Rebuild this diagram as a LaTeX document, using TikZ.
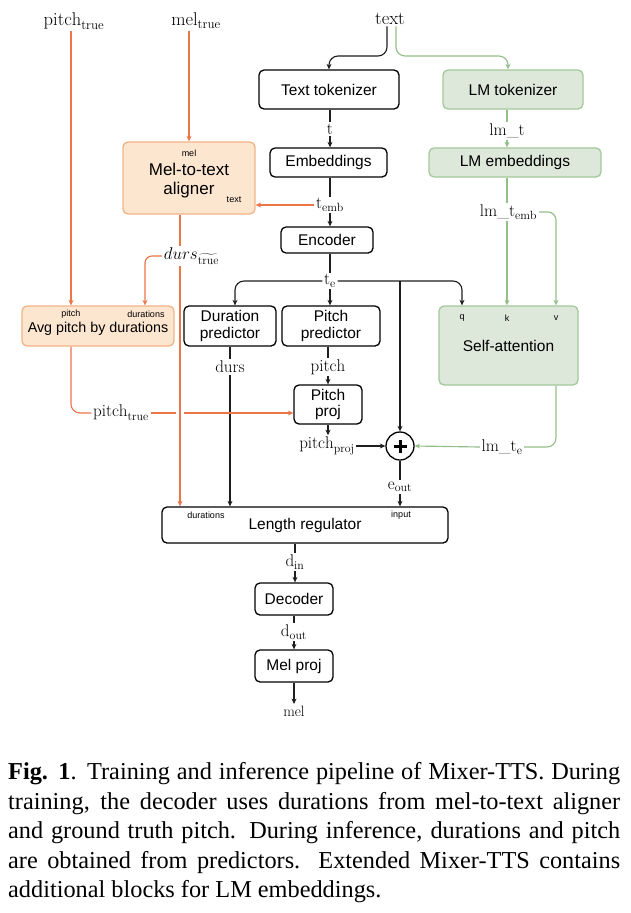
\RequirePackage{fix-cm}
\documentclass[tikz,border=0pt]{standalone}
\usepackage{fontspec}
\usepackage{amsmath}
\newfontfamily\sansf{Liberation Sans}
\newfontfamily\capserif{Liberation Serif}
\usetikzlibrary{arrows.meta,calc}
\pgfdeclarelayer{back}
\pgfdeclarelayer{bg}
\pgfsetlayers{back,bg,main}
\definecolor{orl}{HTML}{EC7649}
\definecolor{orfill}{HTML}{FDE6CF}
\definecolor{ordraw}{HTML}{F2B387}
\definecolor{grl}{HTML}{94BF8A}
\definecolor{grfill}{HTML}{DDE8DA}
\definecolor{grdraw}{HTML}{A3C99A}
\definecolor{lnc}{HTML}{1E1E1E}
\newcommand\bfnt{\sansf\fontsize{15.5}{17.5}\selectfont}
\newcommand\sfnt{\sansf\fontsize{9}{10}\selectfont}
\newcommand\mfnt{\fontsize{17}{19}\selectfont}
\newcommand\tfnt{\fontsize{18.5}{21}\selectfont}
\begin{document}
\begin{tikzpicture}[x=1pt,y=-1pt,
  bx/.style={draw=black, line width=1.3pt, rounded corners=5pt, align=center, font=\bfnt, inner sep=0pt},
  obx/.style={bx, fill=orfill, draw=ordraw},
  gbx/.style={bx, fill=grfill, draw=grdraw},
  lb/.style={fill=white, inner sep=1.5pt, font=\mfnt},
  sm/.style={inner sep=0pt, font=\sfnt},
  ln/.style={draw=lnc, line width=1.15pt},
  ar/.style={ln, -{Stealth[length=5.5pt,width=5pt]}},
  oln/.style={draw=orl, line width=1.15pt},
  oar/.style={oln, -{Stealth[length=5.5pt,width=5pt]}},
  gln/.style={draw=grl, line width=1.15pt},
  gar/.style={gln, -{Stealth[length=5.5pt,width=5pt]}},
]
\begin{pgfonlayer}{back}
\fill[white] (0,0) rectangle (630,913);
\end{pgfonlayer}
\useasboundingbox (0,0) rectangle (630,913);

% top labels
\node[lb, font=\tfnt] (ptop) at (74,21) {$\mathrm{pitch}_{\mathrm{true}}$};
\node[lb, font=\tfnt] (mtop) at (196,21) {$\mathrm{mel}_{\mathrm{true}}$};
\node[lb, font=\tfnt] (txt) at (390,19) {$\mathrm{text}$};

% boxes
\node[bx, minimum width=140pt, minimum height=39pt] (tok) at (329,89.5) {Text tokenizer};
\node[gbx, minimum width=140pt, minimum height=39pt] (lmtok) at (513,89.5) {LM tokenizer};
\node[bx, minimum width=117pt, minimum height=29pt] (emb) at (328.5,162.5) {Embeddings};
\node[gbx, minimum width=172pt, minimum height=29pt] (lmemb) at (515,162.5) {LM embeddings};
\node[obx, minimum width=132pt, minimum height=72pt, font=\sansf\fontsize{17}{19}\selectfont] (aligner) at (189,178) {\rule{0pt}{18pt}Mel-to-text\\aligner};
\node[bx, minimum width=92pt, minimum height=26pt] (enc) at (327,240) {Encoder};
\node[bx, minimum width=92pt, minimum height=40pt] (dur) at (230,326) {Duration\\predictor};
\node[bx, minimum width=98pt, minimum height=40pt] (pp) at (331,326) {Pitch\\predictor};
\node[obx, minimum width=152pt, minimum height=40pt, text height=14pt, text depth=2pt, font=\sansf\fontsize{14.3}{16}\selectfont] (avg) at (98,326) {Avg pitch by durations};
\node[gbx, minimum width=139pt, minimum height=79pt] (sa) at (508.5,345.5) {Self-attention};
\node[bx, minimum width=68pt, minimum height=39pt, font=\sansf\fontsize{15.5}{16.5}\selectfont] (pproj) at (328,404.5) {Pitch\\proj};
\node[circle, draw=black, line width=1.3pt, minimum size=28pt, inner sep=0pt, fill=white] (plus) at (400,446) {};
\draw[line width=3pt] ([xshift=-6.5pt]plus.center) -- ([xshift=6.5pt]plus.center);
\draw[line width=3pt] ([yshift=-6.5pt]plus.center) -- ([yshift=6.5pt]plus.center);
\node[bx, minimum width=286pt, minimum height=36pt] (lr) at (305,525) {Length regulator};
\node[bx, minimum width=78pt, minimum height=32pt] (dec) at (294,599) {Decoder};
\node[bx, minimum width=78pt, minimum height=32pt] (mp) at (294,666) {Mel proj};

% small port labels
\node[sm] (amel) at (189,153) {mel};
\node[sm] (atext) at (234,200) {text};
\node[sm] (avgp) at (71,314) {pitch};
\node[sm] (avgd) at (146,314) {durations};
\node[sm] (saq) at (462,318.5) {q};
\node[sm] (sak) at (507,318.5) {k};
\node[sm] (sav) at (556,318.5) {v};
\node[sm] (lrd) at (206,515) {durations};
\node[sm] (lri) at (401,515) {input};

% signal labels
\node[lb] (tt) at (330,129) {$\mathrm{t}$};
\node[lb] (lmt) at (507,131) {lm\_t};
\node[lb] (temb) at (330,205) {$\mathrm{t}_{\mathrm{emb}}$};
\node[lb] (lmtemb) at (508.5,212) {lm\_t$_{\mathrm{emb}}$};
\node[lb] (te) at (330,281) {$\mathrm{t}_{\mathrm{e}}$};
\node[lb] (dtrue) at (191.5,256) {$durs_{\widetilde{\mathrm{true}}}$};
\node[lb] (durs) at (230,367) {$\mathrm{durs}$};
\node[lb] (pit) at (328,367) {$\mathrm{pitch}$};
\node[lb] (ptrue2) at (121,413) {$\mathrm{pitch}_{\mathrm{true}}$};
\node[lb] (ppj) at (327,446) {$\mathrm{pitch}_{\mathrm{proj}}$};
\node[lb] (eout) at (400,487) {$\mathrm{e}_{\mathrm{out}}$};
\node[lb] (lmte) at (502,447) {lm\_t$_{\mathrm{e}}$};
\node[lb] (din) at (295,562) {$\mathrm{d}_{\mathrm{in}}$};
\node[lb] (dout) at (294,632) {$\mathrm{d}_{\mathrm{out}}$};
\node[lb, font=\fontsize{15}{17}\selectfont] (melo) at (294,711) {$\mathrm{mel}$};
\coordinate (ox) at (180,413);

\begin{pgfonlayer}{bg}
% text to tokenizers
\draw[ar, rounded corners=9pt] ([xshift=-3pt]txt.south) |- (329,56) -- (tok.north);
\draw[gar, rounded corners=9pt] ([xshift=6pt]txt.south) |- (508,56) -- ([xshift=-5pt]lmtok.north);
% main chain
\draw[ln] (tt |- tok.south) -- (tt.north);
\draw[ar] (tt.south) -- (tt |- emb.north);
\draw[ln] (temb |- emb.south) -- (temb.north);
\draw[ar] (temb.south) -- (temb |- enc.north);
\draw[oar] (temb.west) -- (temb.west -| aligner.east);
\draw[ln] (te |- enc.south) -- (te.north);
\draw[ar] (te.south) -- (te |- pp.north);
\draw[ar, rounded corners=9pt] (te.west) -| ([xshift=5pt]dur.north);
\draw[ar, rounded corners=9pt] (te.east) -| (saq |- sa.north);
\draw[ar] (plus |- te.east) -- (plus.north);
\draw[ln] (durs |- dur.south) -- (durs.north);
\draw[ar] (durs.south) -- (durs |- lr.north);
\draw[ln] (pit |- pp.south) -- (pit.north);
\draw[ar] (pit.south) -- (pit |- pproj.north);
\draw[ar] (pproj.south) -- (pproj.south |- ppj.north);
\draw[ar] (ppj.east) -- (plus.west);
\draw[ln] (plus.south) -- (eout.north);
\draw[ar] (eout.south) -- (eout.south |- lr.north);
% LM side
\draw[gln] (lmt |- lmtok.south) -- (lmt.north);
\draw[gar] (lmt.south) -- (lmt |- lmemb.north);
\draw[gln] (sak |- lmemb.south) -- (sak |- lmtemb.north);
\draw[gar] (sak |- lmtemb.south) -- (sak |- sa.north);
\draw[gar, rounded corners=8pt] (lmtemb.east) -| (sav |- sa.north);
\draw[gln, rounded corners=9pt] (sav |- sa.south) |- (lmte.east);
\draw[gar] (lmte.west) -- (plus.east);
% orange (ground truth)
\draw[oar] (ptop.south -| avgp) -- (avgp |- avg.north);
\draw[oar] (mtop.south -| amel) -- (amel |- aligner.north);
\draw[oar] (ox |- aligner.south) -- (ox |- lr.north);
\draw[oar, rounded corners=7pt] (dtrue.west) -| ([xshift=-1pt]avgd |- avg.north);
\draw[oln, rounded corners=9pt] (avgp |- avg.south) |- (ptrue2.west);
\draw[oln] (ptrue2.east) -- ([xshift=-4pt]ox);
\draw[oar] ([xshift=4pt]ox) -- (ox -| pproj.west);
% bottom chain
\draw[ln] (din |- lr.south) -- (din.north);
\draw[ar] (din.south) -- (din |- dec.north);
\draw[ln] (dout |- dec.south) -- (dout.north);
\draw[ar] (dout.south) -- (dout |- mp.north);
\draw[ar] (mp.south) -- (melo.north);
\end{pgfonlayer}

% caption
\node[anchor=north west, inner sep=0pt, text width=612pt, align=justify,
      font=\capserif\fontsize{24.3}{29.5}\selectfont] (cap) at (8,762.5)
 {\textbf{Fig. 1}. Training and inference pipeline of Mixer-TTS. During\linebreak
  training, the decoder uses durations from mel-to-text aligner\linebreak
  and ground truth pitch. During inference, durations and pitch\linebreak
  are obtained from predictors.  Extended Mixer-TTS contains\linebreak
  additional blocks for LM embeddings.};
\end{tikzpicture}
\end{document}
